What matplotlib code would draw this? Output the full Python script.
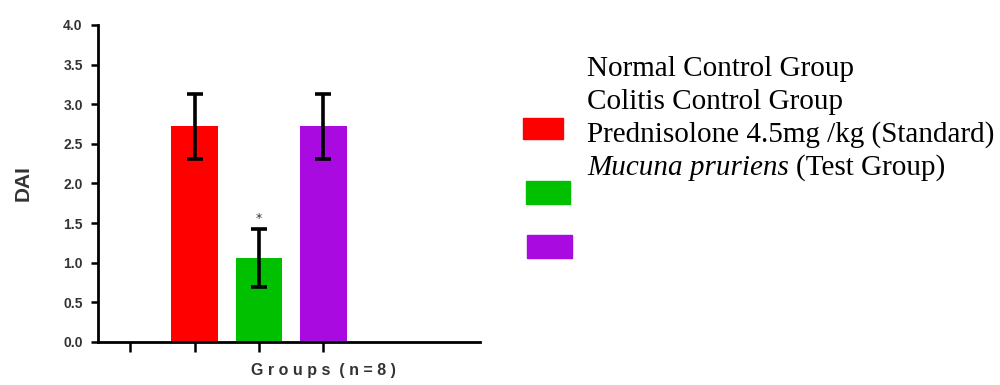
import matplotlib
matplotlib.use("Agg")
import matplotlib.pyplot as plt
from matplotlib.patches import Rectangle

groups = ["Normal Control Group", "Colitis Control Group",
          "Prednisolone 4.5mg /kg (Standard)", "Mucuna pruriens", "(Test Group)"]
positions = [0, 1, 2, 3]
bar_groups = [1, 2, 3]
dai_mean = [2.72, 1.06, 2.72]
dai_err = [0.41, 0.36, 0.41]
bar_colors = ["#ff0000", "#00c000", "#a80ae0"]
yticks = [0.0, 0.5, 1.0, 1.5, 2.0, 2.5, 3.0, 3.5, 4.0]

sans = "Liberation Sans"
serif = "Liberation Serif"

fig = plt.figure(figsize=(10, 3.85), dpi=100)
ax = fig.add_axes([0.098, 0.1117, 0.382, 0.8234])

ax.bar(bar_groups, dai_mean, width=0.72, color=bar_colors)
ax.errorbar(bar_groups, dai_mean, yerr=dai_err, fmt="none", ecolor="black",
            elinewidth=2.6, capsize=5.5, capthick=2.6)
ax.text(bar_groups[1], dai_mean[1] + dai_err[1] + 0.05, "*", ha="center",
        va="bottom", fontsize=9, color="#333333")

ax.set_xlim(-0.5, 5.43)
ax.set_ylim(0, 4.0)
ax.set_xticks(positions)
ax.set_xticklabels([])
ax.set_yticks(yticks)
ax.set_yticklabels([f"{v:.1f}" for v in yticks], fontsize=10, fontweight="bold",
                   color="#333333", family=sans)
ax.tick_params(axis="y", direction="out", length=5, width=1.8, pad=6)
ax.tick_params(axis="x", direction="out", length=7, width=1.8)
for side in ["top", "right"]:
    ax.spines[side].set_visible(False)
for side in ["left", "bottom"]:
    ax.spines[side].set_linewidth(2)

ax.set_ylabel("DAI", fontsize=15, fontweight="bold", color="#333333",
              family=sans, labelpad=22)
fig.text(0.323, 0.027, "G r o u p s  ( n = 8 )", ha="center", fontsize=11.5,
         fontweight="bold", color="#333333", family=sans)

# legend drawn by hand to mimic the misaligned original
ys = [1 - 69 / 385, 1 - 102 / 385, 1 - 135 / 385, 1 - 168 / 385]
for y, label in zip(ys[:3], groups[:3]):
    fig.text(0.587, y, label, fontsize=21, family=serif, va="center")
it = fig.text(0.587, ys[3], groups[3] + " ", fontsize=21, family=serif,
              style="italic", va="center")
fig.canvas.draw()
bb = it.get_window_extent()
fig.text(bb.x1 / fig.bbox.width, ys[3], groups[4], fontsize=21, family=serif,
         va="center")

patch_boxes = [(523, 118, 40, 21), (526, 181, 44, 23), (527, 235, 45, 23)]
for (px, py, w, h), c in zip(patch_boxes, bar_colors):
    fig.patches.append(Rectangle((px / 1000, 1 - (py + h) / 385), w / 1000, h / 385,
                                 transform=fig.transFigure, color=c))

fig.savefig("out.png", dpi=100)
